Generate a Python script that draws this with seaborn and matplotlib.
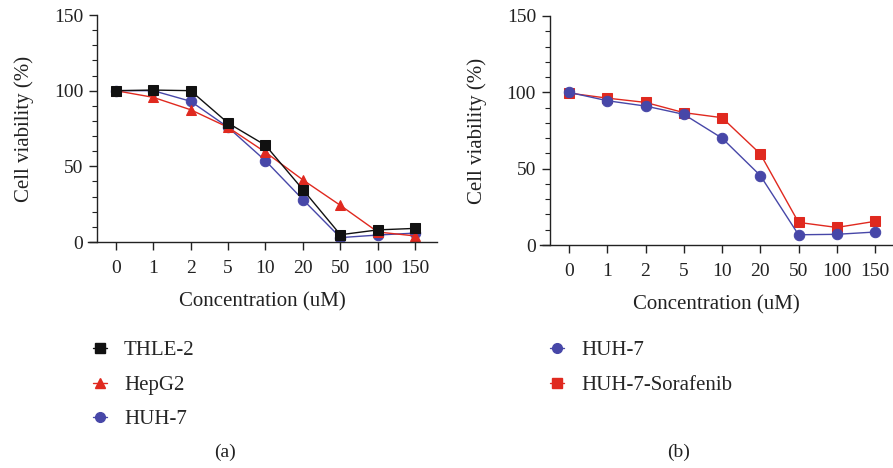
import pandas as pd
import matplotlib.pyplot as plt
import seaborn as sns
from matplotlib.lines import Line2D
from matplotlib.ticker import MultipleLocator

conc = ["0", "1", "2", "5", "10", "20", "50", "100", "150"]

# panel (a)
thle2 = [100, 100.4, 100, 78.6, 63.9, 34.6, 4.8, 8.0, 9.0]
hepg2 = [100, 95.6, 87.4, 75.8, 59.3, 41.0, 24.2, 6.6, 4.0]
huh7_a = [100, 100, 93.0, 75.8, 53.7, 28.0, 2.9, 4.6, 5.9]

# panel (b)
huh7_b = [100, 94.5, 91.0, 85.6, 70.0, 45.5, 6.7, 7.0, 8.5]
huh7_sor = [99.5, 96.2, 93.4, 86.7, 83.4, 59.7, 14.8, 11.5, 15.5]

BLACK = "#111111"
RED = "#e0291f"
BLUE = "#4747a8"
INK = "#222222"

sns.set_style("ticks")
plt.rcParams["font.family"] = ["Liberation Serif", "DejaVu Serif"]


def draw(ax, series):
    for vals, color, marker in series:
        df = pd.DataFrame({"Concentration": conc, "Viability": vals})
        sns.pointplot(data=df, x="Concentration", y="Viability", order=conc,
                      color=color, marker=marker, markersize=7.5,
                      linewidth=1.0, errorbar=None, ax=ax)


def style(ax, xlim):
    ax.set_ylim(0, 150)
    ax.set_xlim(*xlim)
    ax.yaxis.set_major_locator(MultipleLocator(50))
    ax.yaxis.set_minor_locator(MultipleLocator(10))
    ax.spines["left"].set_position(("data", -0.5))
    ax.spines["right"].set_visible(False)
    ax.spines["top"].set_visible(False)
    for s in ("left", "bottom"):
        ax.spines[s].set_linewidth(1.0)
        ax.spines[s].set_color(INK)
    ax.tick_params(axis="both", which="major", length=6, width=1.0,
                   labelsize=14, colors=INK, labelcolor=INK)
    ax.tick_params(axis="y", which="minor", length=3.5, width=0.8, colors=INK)
    ax.tick_params(axis="x", pad=7)
    ax.tick_params(axis="y", pad=4)
    ax.set_xlabel("Concentration (uM)", fontsize=15, labelpad=11, color=INK)
    ax.set_ylabel("Cell viability (%)", fontsize=15, labelpad=14, color=INK)


fig = plt.figure(figsize=(8.93, 4.68), dpi=100)
ax1 = fig.add_axes([88 / 893, 1 - 242 / 468, 349 / 893, 227 / 468])
ax2 = fig.add_axes([540 / 893, 1 - 245 / 468, 353 / 893, 229 / 468])

draw(ax1, [(huh7_a, BLUE, "o"), (hepg2, RED, "^"), (thle2, BLACK, "s")])
draw(ax2, [(huh7_sor, RED, "s"), (huh7_b, BLUE, "o")])

style(ax1, (-0.74, 8.58))
style(ax2, (-0.76, 8.47))

legend_kw = dict(loc="upper left", frameon=False, handlelength=0.7,
                 handletextpad=0.8, labelspacing=0.72, prop={"size": 15})

h_a = [Line2D([], [], color=BLACK, marker="s", markersize=7, lw=1),
       Line2D([], [], color=RED, marker="^", markersize=7, lw=1),
       Line2D([], [], color=BLUE, marker="o", markersize=7, lw=1)]
fig.legend(h_a, ["THLE-2", "HepG2", "HUH-7"],
           bbox_to_anchor=(74 / 893, 1 - 322 / 468), **legend_kw)

h_b = [Line2D([], [], color=BLUE, marker="o", markersize=7, lw=1),
       Line2D([], [], color=RED, marker="s", markersize=7, lw=1)]
fig.legend(h_b, ["HUH-7", "HUH-7-Sorafenib"],
           bbox_to_anchor=(531 / 893, 1 - 322 / 468), **legend_kw)

fig.text(225 / 893, 1 - 452 / 468, "(a)", ha="center", va="center", fontsize=14, color=INK)
fig.text(679 / 893, 1 - 452 / 468, "(b)", ha="center", va="center", fontsize=14, color=INK)

fig.savefig("out.png", dpi=100)
